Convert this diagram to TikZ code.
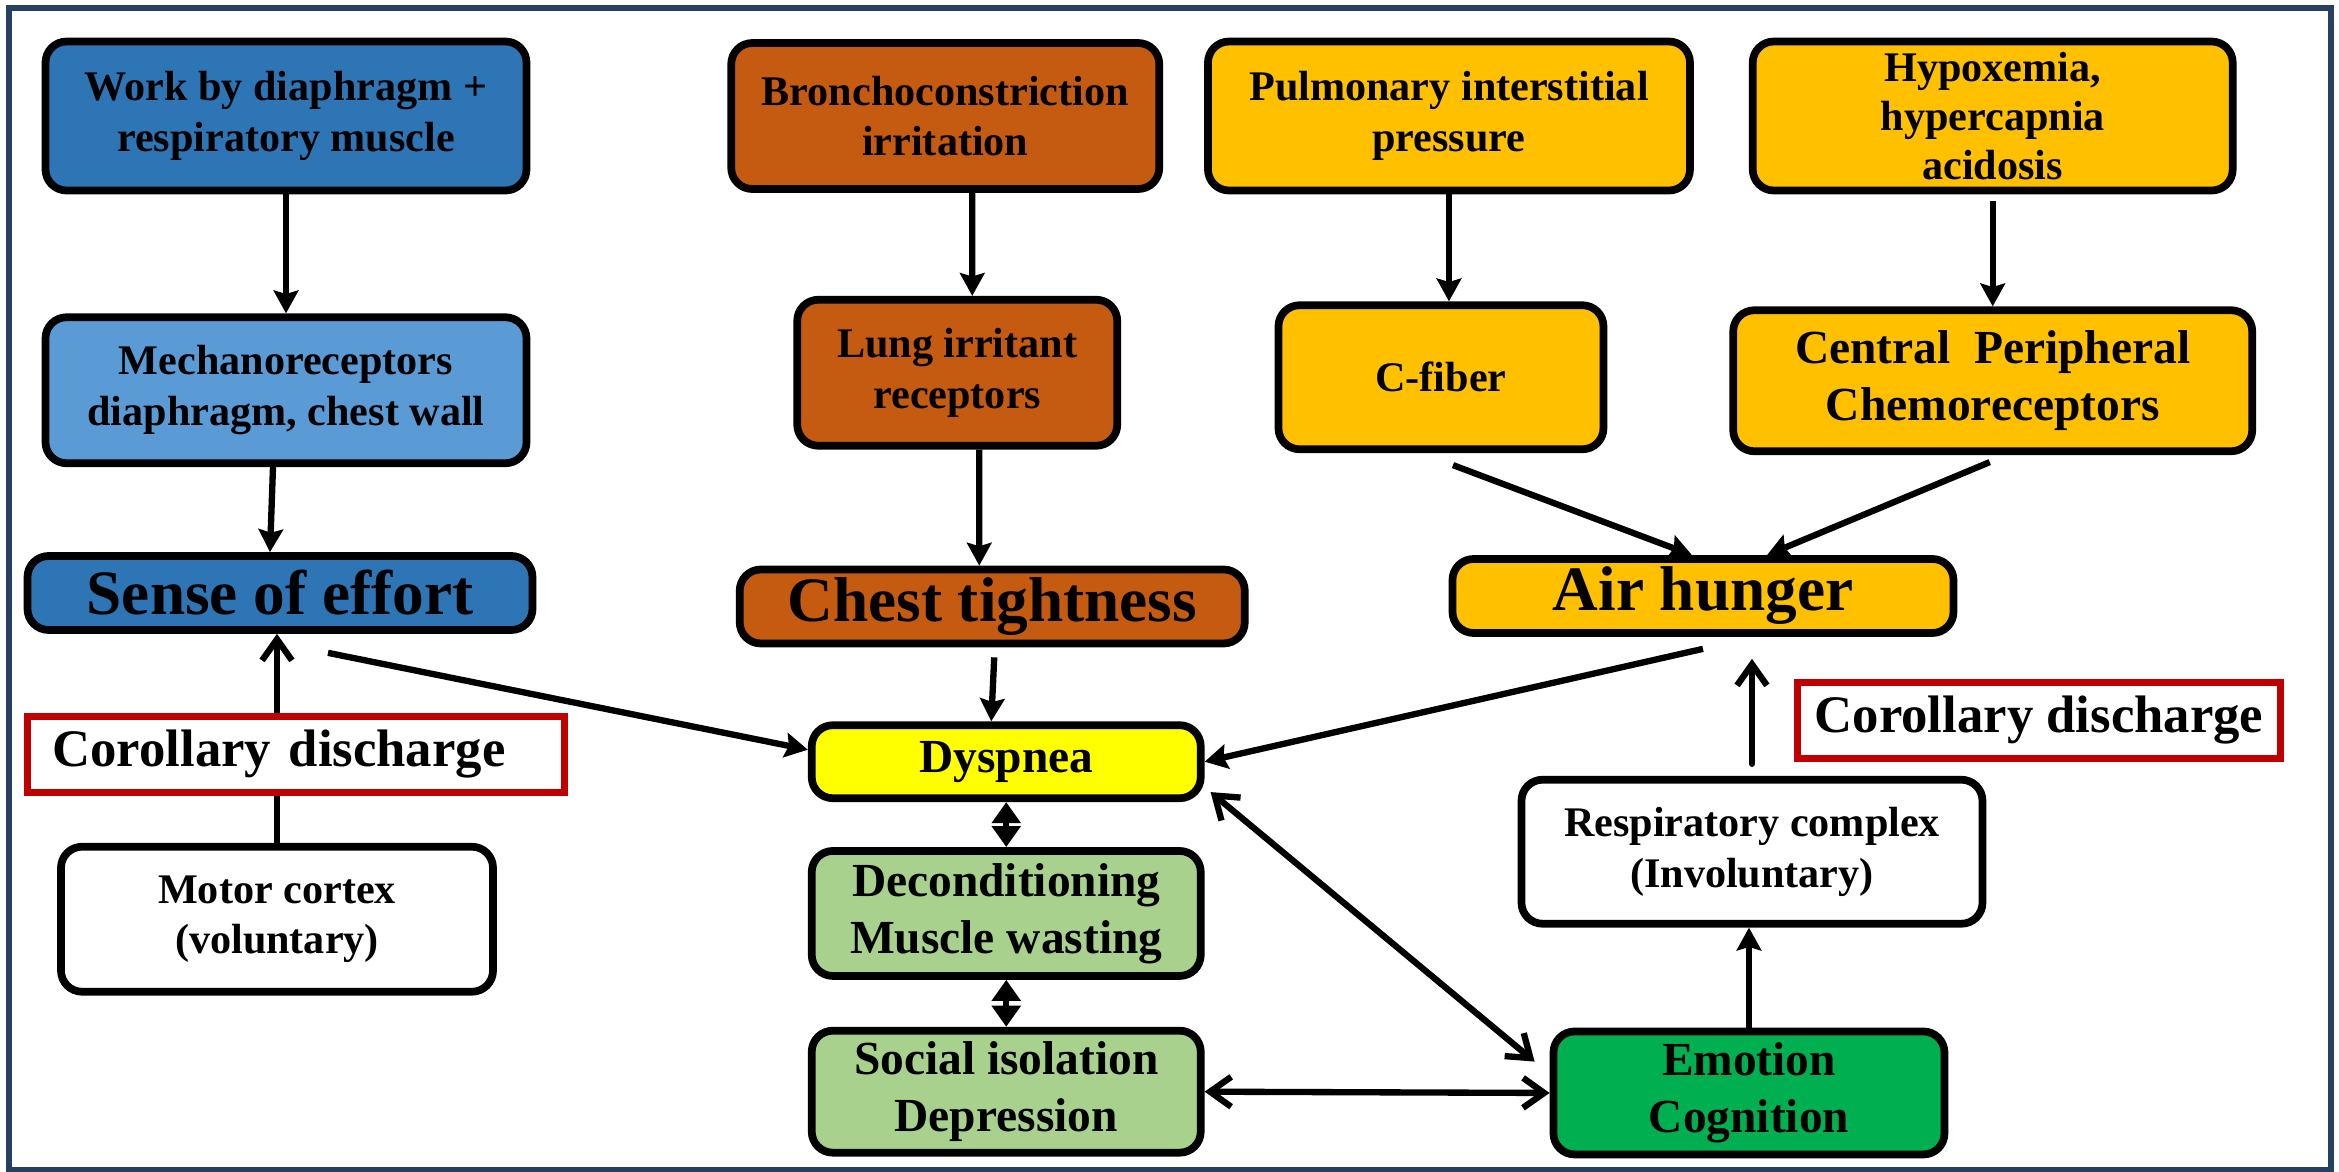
\documentclass[tikz,border=0pt]{standalone}
\usepackage{fontspec}
\setmainfont{Liberation Serif}
\usepackage{tikz}
\usetikzlibrary{arrows.meta,positioning,calc}

\definecolor{effortblue}{HTML}{2E75B6}
\definecolor{mechblue}{HTML}{5B9BD5}
\definecolor{tightbrown}{HTML}{C55A11}
\definecolor{hungergold}{HTML}{FFC000}
\definecolor{dysyellow}{HTML}{FFFF00}
\definecolor{palegreen}{HTML}{A9D18E}
\definecolor{emogreen}{HTML}{00B050}
\definecolor{cdred}{HTML}{C00000}
\definecolor{framenavy}{HTML}{254061}

\begin{document}
\begin{tikzpicture}[
    >={Stealth[length=6.5pt,width=7pt,inset=1pt]},
    box/.style={draw, line width=2.2pt, rounded corners=6pt,
                fill=#1, inner sep=2pt, align=center},
    box/.default=white,
    sm/.style={font=\fontsize{12}{14.4}\selectfont\bfseries},
    md/.style={font=\fontsize{13.5}{16.3}\selectfont\bfseries},
    lg/.style={font=\fontsize{18}{21}\selectfont\bfseries},
    cd/.style={draw=cdred, line width=2pt, fill=white, minimum height=0.76cm,
               font=\fontsize{15}{18}\selectfont\bfseries},
    arr/.style={->, line width=1.8pt},
    oarr/.style={-{Straight Barb[length=6pt,width=8.5pt]}, line width=1.8pt, line cap=round},
    obi/.style={{Straight Barb[length=6pt,width=8.5pt]}-{Straight Barb[length=6pt,width=8.5pt]},
                line width=1.8pt, line cap=round},
    dia/.style={{Triangle[length=6pt,width=8pt]}-{Triangle[length=6pt,width=8pt]},
                line width=1.8pt},
  ]
  \useasboundingbox (0,0) rectangle (23.39,-11.71);
  \draw[framenavy, line width=1.8pt] (0.09,-0.08) rectangle (23.31,-11.70);

  % effort side
  \node[box=effortblue, sm, minimum width=4.81cm, minimum height=1.49cm] (work)
    at (2.86,-1.16) {Work by diaphragm +\\respiratory muscle};
  \node[box=mechblue, sm, minimum width=4.81cm, minimum height=1.46cm,
        below=1.19cm of work] (mech) {Mechanoreceptors\\diaphragm, chest wall};
  \node[box=effortblue, lg, minimum width=5.05cm, minimum height=0.74cm,
        below=0.85cm of mech, xshift=-0.06cm] (effort) {Sense of effort};
  \node[box, sm, minimum width=4.32cm, minimum height=1.45cm,
        below=2.09cm of effort, xshift=-0.03cm] (motor) {Motor cortex\\(voluntary)};

  % tightness column
  \node[box=tightbrown, sm, minimum width=4.28cm, minimum height=1.46cm,
        right=1.97cm of work] (broncho) {Bronchoconstriction\\irritation};
  \node[box=tightbrown, sm, minimum width=3.20cm, minimum height=1.46cm,
        below=1.03cm of broncho, xshift=0.12cm] (irritant) {Lung irritant\\receptors};
  \node[box=tightbrown, lg, minimum width=5.05cm, minimum height=0.74cm,
        below=1.16cm of irritant, xshift=0.35cm] (tight) {Chest tightness};
  \node[box=dysyellow, md, minimum width=3.89cm, minimum height=0.73cm,
        below=0.74cm of tight, xshift=0.14cm] (dysp) {Dyspnea};
  \node[box=palegreen, md, minimum width=3.89cm, minimum height=1.25cm,
        below=0.45cm of dysp] (decond) {Deconditioning\\Muscle wasting};
  \node[box=palegreen, md, minimum width=3.89cm, minimum height=1.22cm,
        below=0.47cm of decond] (social) {Social isolation\\Depression};

  % air hunger side
  \node[box=hungergold, sm, minimum width=4.82cm, minimum height=1.49cm,
        right=0.41cm of broncho] (pulm) {Pulmonary interstitial\\pressure};
  \node[box=hungergold, font=\fontsize{12}{14}\selectfont\bfseries, inner ysep=0pt,
        minimum width=4.80cm, minimum height=1.49cm,
        right=0.55cm of pulm] (hypox) {Hypoxemia,\\hypercapnia\\acidosis};
  \node[box=hungergold, sm, minimum width=3.25cm, minimum height=1.44cm,
        below=1.07cm of pulm, xshift=-0.08cm] (cfiber) {C-fiber};
  \node[box=hungergold, md, minimum width=5.19cm, minimum height=1.41cm,
        below=1.12cm of hypox] (chemo) {Central~~Peripheral\\Chemoreceptors};
  \node[box=hungergold, lg, minimum width=5.01cm, minimum height=0.74cm,
        below=1.02cm of cfiber, xshift=2.62cm] (hunger) {Air hunger};
  \node[box, sm, minimum width=4.61cm, minimum height=1.44cm,
        below=1.39cm of hunger, xshift=0.49cm] (resp) {Respiratory complex\\(Involuntary)};
  \node[box=emogreen, md, minimum width=3.91cm, minimum height=1.23cm,
        below=1.00cm of resp, xshift=-0.03cm] (emotion) {Emotion\\Cognition};

  % connectors
  \draw[arr] (work.south) -- (mech.north);
  \draw[arr] ([xshift=-0.13cm]mech.south) -- ([xshift=-0.10cm]effort.north);
  \draw[oarr] (motor.north) -- (motor.north |- effort.south);
  \draw[arr] ($(effort.south)+(0.48,-0.19)$) -- ([yshift=0.12cm]dysp.west);

  \draw[arr] ([xshift=0.27cm]broncho.south) -- ([xshift=0.15cm]irritant.north);
  \draw[arr] ([xshift=0.22cm]irritant.south) -- ([xshift=-0.13cm]tight.north);
  \draw[arr] ([xshift=0.02cm,yshift=-0.1cm]tight.south) -- ([xshift=-0.15cm]dysp.north);
  \draw[dia] (dysp.south) -- (decond.north);
  \draw[dia] (decond.south) -- (social.north);

  \draw[arr] (pulm.south) -- (pulm.south |- cfiber.north);
  \draw[arr] ([yshift=-0.07cm]hypox.south) -- (chemo.north);
  \draw[arr] ($(cfiber.south)+(0.12,-0.12)$) -- ([xshift=-0.11cm]hunger.north);
  \draw[arr] ($(chemo.south)+(-0.03,-0.07)$) -- ([xshift=0.64cm]hunger.north);
  \draw[arr] ([yshift=-0.12cm]hunger.south) -- (dysp.east);
  \draw[arr] (emotion.north) -- (emotion.north |- resp.south);
  \draw[oarr] ([yshift=0.12cm]resp.north) -- ($(resp.north |- hunger.south)+(0,-0.22)$);
  \draw[obi] ($(dysp.south east)+(0.06,0.1)$) -- ($(emotion.north west)+(-0.15,-0.34)$);
  \draw[obi] (social.east) -- (emotion.west);

  % corollary discharge labels (over the lines)
  \node[cd, text width=4.87cm, align=left, inner xsep=0.25cm,
        below=0.79cm of effort, xshift=0.16cm] (cdleft) {Corollary discharge};
  \node[cd, minimum width=4.83cm, below=0.42cm of hunger, xshift=3.36cm] (cdright)
    {Corollary discharge};
\end{tikzpicture}
\end{document}
